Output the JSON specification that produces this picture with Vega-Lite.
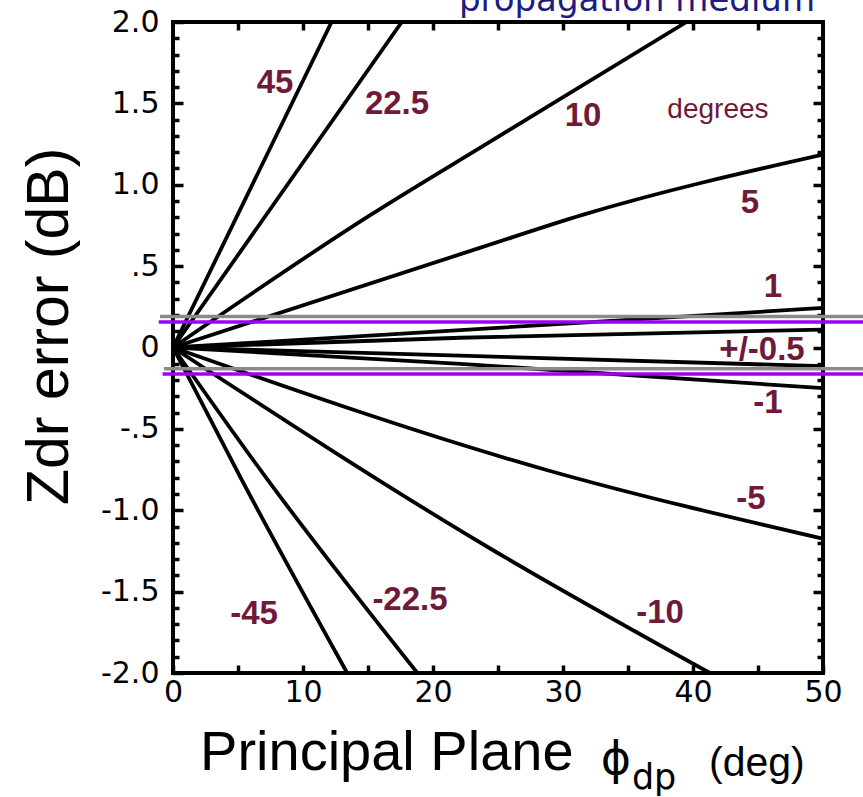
{
  "$schema": "https://vega.github.io/schema/vega-lite/v6.json",
  "width": 650,
  "height": 651,
  "autosize": {"type": "none"},
  "padding": {"left": 173, "top": 22, "right": 40, "bottom": 124},
  "background": "white",
  "config": {
    "view": {"stroke": "black", "strokeWidth": 4},
    "axis": {"domain": false, "grid": false, "tickColor": "black", "tickWidth": 3.5, "labelFont": "DejaVu Sans", "labelFontSize": 30, "labelColor": "black", "labelFlush": false, "title": null}
  },
  "datasets": {
    "curves": [
      {"s": "45", "x": 0, "y": 0}, {"s": "45", "x": 12.2, "y": 2.0},
      {"s": "22.5", "x": 0, "y": 0}, {"s": "22.5", "x": 17.6, "y": 2.0},
      {"s": "10", "x": 0, "y": 0}, {"s": "10", "x": 15.2, "y": 0.815}, {"s": "10", "x": 24.4, "y": 1.265}, {"s": "10", "x": 39.5, "y": 2.0},
      {"s": "5", "x": 0, "y": 0}, {"s": "5", "x": 23.6, "y": 0.612}, {"s": "5", "x": 31.5, "y": 0.815}, {"s": "5", "x": 50, "y": 1.185},
      {"s": "1", "x": 0, "y": 0}, {"s": "1", "x": 22.1, "y": 0.107}, {"s": "1", "x": 50, "y": 0.243},
      {"s": "0.5", "x": 0, "y": 0}, {"s": "0.5", "x": 22.1, "y": 0.06}, {"s": "0.5", "x": 50, "y": 0.11},
      {"s": "-0.5", "x": 0, "y": 0}, {"s": "-0.5", "x": 22.1, "y": -0.05}, {"s": "-0.5", "x": 50, "y": -0.115},
      {"s": "-1", "x": 0, "y": 0}, {"s": "-1", "x": 22.1, "y": -0.1}, {"s": "-1", "x": 50, "y": -0.25},
      {"s": "-5", "x": 0, "y": 0}, {"s": "-5", "x": 28.8, "y": -0.754}, {"s": "-5", "x": 50, "y": -1.175},
      {"s": "-10", "x": 0, "y": 0}, {"s": "-10", "x": 24.4, "y": -1.235}, {"s": "-10", "x": 41.3, "y": -2.0},
      {"s": "-22.5", "x": 0, "y": 0}, {"s": "-22.5", "x": 7.3, "y": -0.815}, {"s": "-22.5", "x": 18.8, "y": -2.0},
      {"s": "-45", "x": 0, "y": 0}, {"s": "-45", "x": 5.3, "y": -0.815}, {"s": "-45", "x": 13.4, "y": -2.0}
    ],
    "bands": [
      {"k": "gray", "x": -1.0, "x2": 54, "y": 0.19},
      {"k": "purple", "x": -1.1, "x2": 54, "y": 0.157},
      {"k": "gray", "x": -0.7, "x2": 54, "y": -0.13},
      {"k": "purple", "x": -0.8, "x2": 54, "y": -0.163}
    ],
    "labels": [
      {"t": "45", "x": 7.85, "y": 1.628},
      {"t": "22.5", "x": 17.23, "y": 1.498},
      {"t": "10", "x": 31.54, "y": 1.425},
      {"t": "5", "x": 44.38, "y": 0.889},
      {"t": "1", "x": 46.15, "y": 0.372},
      {"t": "+/-0.5", "x": 45.31, "y": -0.015},
      {"t": "-1", "x": 45.77, "y": -0.342},
      {"t": "-5", "x": 44.46, "y": -0.932},
      {"t": "-10", "x": 37.46, "y": -1.634},
      {"t": "-22.5", "x": 18.23, "y": -1.554},
      {"t": "-45", "x": 6.23, "y": -1.64}
    ],
    "texts": [
      {"part": "degrees", "t": "degrees", "x": 41.92, "y": 1.462},
      {"part": "ytitle", "t": "Zdr error (dB)", "x": -8.08, "y": 0.13},
      {"part": "main", "t": "Principal Plane", "x": 2.08, "y": -2.595},
      {"part": "phi", "t": "ϕ", "x": 32.9, "y": -2.62},
      {"part": "sub", "t": "dp", "x": 35.3, "y": -2.711},
      {"part": "unit", "t": "(deg)", "x": 41.23, "y": -2.631},
      {"part": "top", "t": "propagation medium", "x": 35.69, "y": 2.07}
    ]
  },
  "resolve": {"axis": {"x": "independent", "y": "independent"}},
  "layer": [
    {
      "data": {"name": "curves"},
      "mark": {"type": "line", "color": "black", "strokeWidth": 3.8, "interpolate": "monotone", "clip": true},
      "encoding": {
        "x": {"field": "x", "type": "quantitative", "scale": {"domain": [0, 50], "nice": false},
          "axis": {"orient": "bottom", "values": [0, 5, 10, 15, 20, 25, 30, 35, 40, 45, 50], "tickSize": -8, "labelPadding": 12, "labelExpr": "datum.value % 10 == 0 ? datum.label : ''"}},
        "y": {"field": "y", "type": "quantitative", "scale": {"domain": [-2, 2], "nice": false},
          "axis": {"orient": "left", "values": [-2, -1.5, -1, -0.5, 0, 0.5, 1, 1.5, 2], "tickSize": -10, "labelPadding": 24,
            "labelExpr": "datum.value == 0 ? '0' : (datum.value < 0 ? '-' : '') + (abs(datum.value) == 0.5 ? '.5' : format(abs(datum.value), '.1f'))"}},
        "detail": {"field": "s", "type": "nominal"}
      }
    },
    {
      "data": {"name": "bands"},
      "mark": {"type": "rule", "strokeWidth": 3.5, "clip": false},
      "encoding": {
        "x": {"field": "x", "type": "quantitative", "scale": {"domain": [0, 50], "nice": false},
          "axis": {"orient": "top", "values": [5, 10, 15, 20, 25, 30, 35, 40, 45], "tickSize": -8, "labels": false}},
        "x2": {"field": "x2"},
        "y": {"field": "y", "type": "quantitative", "scale": {"domain": [-2, 2], "nice": false},
          "axis": {"orient": "left", "values": [-1.9, -1.8, -1.7, -1.6, -1.4, -1.3, -1.2, -1.1, -0.9, -0.8, -0.7, -0.6, -0.4, -0.3, -0.2, -0.1, 0.1, 0.2, 0.3, 0.4, 0.6, 0.7, 0.8, 0.9, 1.1, 1.2, 1.3, 1.4, 1.6, 1.7, 1.8, 1.9], "tickSize": -6, "labels": false}},
        "color": {"field": "k", "type": "nominal", "scale": {"domain": ["gray", "purple"], "range": ["#8a8a8a", "#a000f5"]}, "legend": null}
      }
    },
    {
      "data": {"name": "labels"},
      "mark": {"type": "text", "font": "Liberation Sans", "fontWeight": "bold", "fontSize": 33, "color": "#6e1a38", "align": "center", "baseline": "middle", "clip": false},
      "encoding": {
        "x": {"field": "x", "type": "quantitative", "scale": {"domain": [0, 50], "nice": false}, "axis": null},
        "y": {"field": "y", "type": "quantitative", "scale": {"domain": [-2, 2], "nice": false},
          "axis": {"orient": "right", "values": [-1.5, -1, -0.5, 0, 0.5, 1, 1.5], "tickSize": -10, "labels": false}},
        "text": {"field": "t"}
      }
    },
    {
      "data": {"name": "texts"},
      "transform": [{"filter": "datum.part == 'degrees'"}],
      "mark": {"type": "text", "font": "Liberation Sans", "fontSize": 28, "color": "#6e1a38", "align": "center", "baseline": "middle", "clip": false},
      "encoding": {
        "x": {"field": "x", "type": "quantitative", "scale": {"domain": [0, 50], "nice": false}, "axis": null},
        "y": {"field": "y", "type": "quantitative", "scale": {"domain": [-2, 2], "nice": false},
          "axis": {"orient": "right", "values": [-1.9, -1.8, -1.7, -1.6, -1.4, -1.3, -1.2, -1.1, -0.9, -0.8, -0.7, -0.6, -0.4, -0.3, -0.2, -0.1, 0.1, 0.2, 0.3, 0.4, 0.6, 0.7, 0.8, 0.9, 1.1, 1.2, 1.3, 1.4, 1.6, 1.7, 1.8, 1.9], "tickSize": -6, "labels": false}},
        "text": {"field": "t"}
      }
    },
    {
      "data": {"name": "texts"},
      "transform": [{"filter": "datum.part == 'ytitle'"}],
      "mark": {"type": "text", "font": "Liberation Sans", "fontSize": 59, "color": "black", "align": "center", "baseline": "alphabetic", "angle": 270, "clip": false},
      "encoding": {
        "x": {"field": "x", "type": "quantitative", "scale": {"domain": [0, 50], "nice": false}, "axis": null},
        "y": {"field": "y", "type": "quantitative", "scale": {"domain": [-2, 2], "nice": false}, "axis": null},
        "text": {"field": "t"}
      }
    },
    {
      "data": {"name": "texts"},
      "transform": [{"filter": "datum.part == 'main'"}],
      "mark": {"type": "text", "font": "Liberation Sans", "fontSize": 56, "color": "black", "align": "left", "baseline": "alphabetic", "clip": false},
      "encoding": {
        "x": {"field": "x", "type": "quantitative", "scale": {"domain": [0, 50], "nice": false}, "axis": null},
        "y": {"field": "y", "type": "quantitative", "scale": {"domain": [-2, 2], "nice": false}, "axis": null},
        "text": {"field": "t"}
      }
    },
    {
      "data": {"name": "texts"},
      "transform": [{"filter": "datum.part == 'phi'"}],
      "mark": {"type": "text", "font": "DejaVu Sans", "fontSize": 46, "color": "black", "align": "left", "baseline": "alphabetic", "clip": false},
      "encoding": {
        "x": {"field": "x", "type": "quantitative", "scale": {"domain": [0, 50], "nice": false}, "axis": null},
        "y": {"field": "y", "type": "quantitative", "scale": {"domain": [-2, 2], "nice": false}, "axis": null},
        "text": {"field": "t"}
      }
    },
    {
      "data": {"name": "texts"},
      "transform": [{"filter": "datum.part == 'sub'"}],
      "mark": {"type": "text", "font": "DejaVu Sans", "fontSize": 35, "color": "black", "align": "left", "baseline": "alphabetic", "clip": false},
      "encoding": {
        "x": {"field": "x", "type": "quantitative", "scale": {"domain": [0, 50], "nice": false}, "axis": null},
        "y": {"field": "y", "type": "quantitative", "scale": {"domain": [-2, 2], "nice": false}, "axis": null},
        "text": {"field": "t"}
      }
    },
    {
      "data": {"name": "texts"},
      "transform": [{"filter": "datum.part == 'unit'"}],
      "mark": {"type": "text", "font": "Liberation Sans", "fontSize": 41, "color": "black", "align": "left", "baseline": "alphabetic", "clip": false},
      "encoding": {
        "x": {"field": "x", "type": "quantitative", "scale": {"domain": [0, 50], "nice": false}, "axis": null},
        "y": {"field": "y", "type": "quantitative", "scale": {"domain": [-2, 2], "nice": false}, "axis": null},
        "text": {"field": "t"}
      }
    },
    {
      "data": {"name": "texts"},
      "transform": [{"filter": "datum.part == 'top'"}],
      "mark": {"type": "text", "font": "DejaVu Sans", "fontSize": 34, "color": "#1c1c82", "align": "center", "baseline": "alphabetic", "clip": false},
      "encoding": {
        "x": {"field": "x", "type": "quantitative", "scale": {"domain": [0, 50], "nice": false}, "axis": null},
        "y": {"field": "y", "type": "quantitative", "scale": {"domain": [-2, 2], "nice": false}, "axis": null},
        "text": {"field": "t"}
      }
    }
  ]
}
